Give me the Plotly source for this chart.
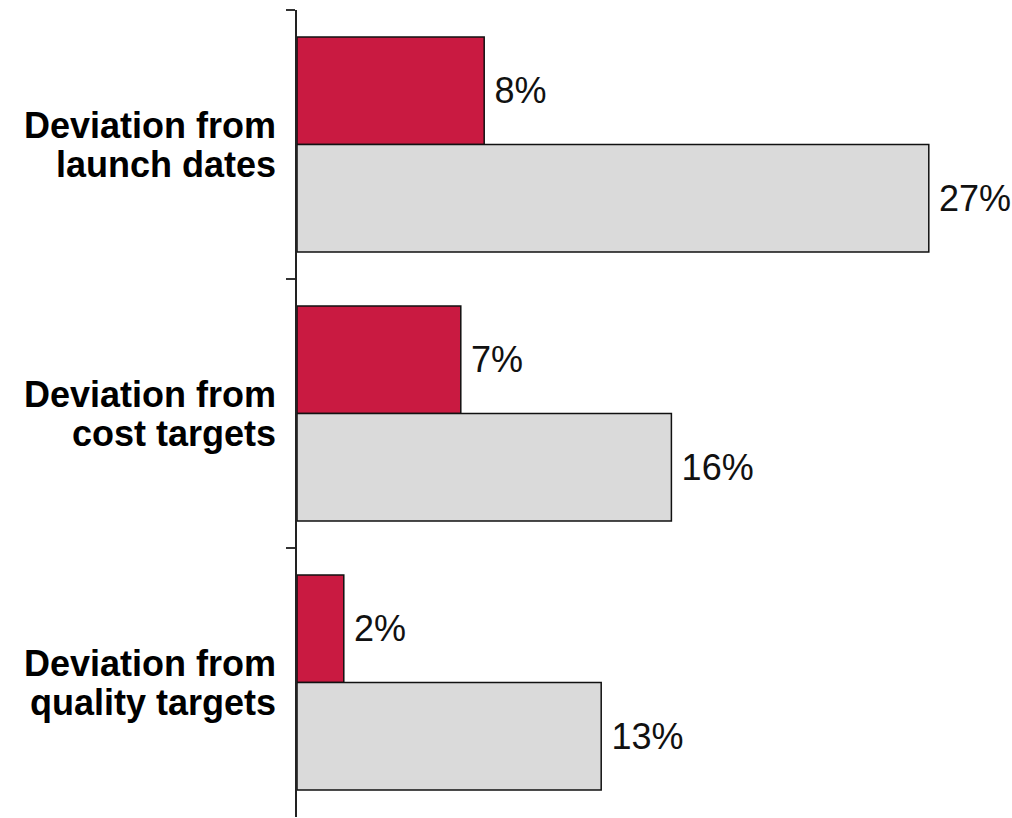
import plotly.graph_objects as go

categories = ["Deviation from launch dates", "Deviation from cost targets", "Deviation from quality targets"]
label_line1 = ["Deviation from", "Deviation from", "Deviation from"]
label_line2 = ["launch dates", "cost targets", "quality targets"]
red_values = [8, 7, 2]
gray_values = [27, 16, 13]

FONT = "Liberation Sans, Arial, sans-serif"

fig = go.Figure()
for vals, color in [(red_values, "#C91A41"), (gray_values, "#DADADA")]:
    fig.add_trace(go.Bar(
        y=categories, x=vals, orientation="h",
        marker=dict(color=color, line=dict(color="#111111", width=1.5)),
        text=[f"\u2009{v}%" for v in vals], textposition="outside",
        constraintext="none",
        textfont=dict(family=FONT, size=36, color="#111111"),
        cliponaxis=False,
    ))

# two-line category labels with tight line spacing
for cat, l1, l2 in zip(categories, label_line1, label_line2):
    for line, shift in [(l1, 19), (l2, -20)]:
        fig.add_annotation(
            xref="paper", yref="y", x=0, y=cat, text=line,
            xanchor="right", yanchor="middle", xshift=-19, yshift=shift,
            showarrow=False,
            font=dict(family=FONT, size=36, color="#000000", weight="bold"),
        )

fig.update_layout(
    width=1012, height=818,
    margin=dict(l=297, r=13, t=10, b=1),
    barmode="group", bargap=0.2, bargroupgap=0,
    plot_bgcolor="white", paper_bgcolor="white",
    showlegend=False,
)
fig.update_xaxes(range=[0, 30], visible=False, showgrid=False, zeroline=False)
fig.update_yaxes(
    autorange="reversed", showgrid=False, zeroline=False,
    showline=True, linecolor="#222222", linewidth=1.5,
    ticks="outside", ticklen=9, tickcolor="#333333", tickwidth=1.5,
    tickson="boundaries", showticklabels=False,
)

fig.write_html("out.html")
